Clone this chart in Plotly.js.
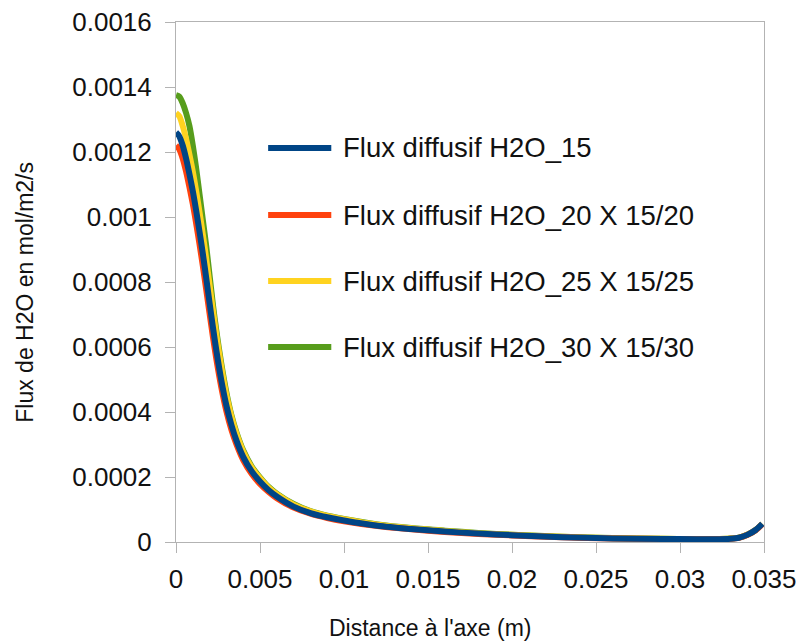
<!DOCTYPE html>
<html>
<head>
<meta charset="utf-8">
<script src="https://cdn.plot.ly/plotly-3.0.1.min.js"></script>
<style>html,body{margin:0;padding:0;background:#fff;}#chart{width:801px;height:644px;}</style>
</head>
<body>
<div id="chart"></div>
<script>
// Distance à l'axe (m)
const distance = [0,0.0002,0.0004,0.0006,0.0008,0.001,0.0012,0.0014,0.0016,0.0018,
  0.002,0.0022,0.0024,0.0027,0.003,0.0033,0.0036,0.004,0.0045,0.005,
  0.0055,0.006,0.007,0.008,0.009,0.01,0.012,0.014,0.016,0.018,
  0.02,0.023,0.026,0.029,0.031,0.032,0.033,0.0335,0.034,0.0345,0.0349];

const flux15 = [0.00126,0.001248,0.00122,0.00118,0.001132,0.00108,0.00102,0.000955,0.000886,0.000812,
  0.000735,0.00066,0.00059,0.000497,0.00042,0.00036,0.000312,0.000262,0.000218,0.000186,
  0.00016,0.00014,0.000109,0.000089,0.000076,0.000066,0.00005,0.00004,0.000032,0.000026,
  0.000021,0.000015,0.000011,0.0000095,0.0000085,0.0000085,0.00001,0.000013,0.000022,0.000037,0.000056];

const flux20 = [0.00122,0.001208,0.00118,0.00114,0.001092,0.00104,0.00098,0.000916,0.000848,0.000776,
  0.000702,0.00063,0.000563,0.000475,0.000402,0.000345,0.0003,0.000252,0.00021,0.000179,
  0.000155,0.000135,0.000106,0.000087,0.000074,0.000064,0.000049,0.000039,0.000031,0.000025,
  0.0000203,0.0000145,0.000011,0.0000093,0.0000083,0.0000083,0.0000098,0.0000127,0.0000215,0.000036,0.000055];

const flux25 = [0.00132,0.00131,0.00128,0.00124,0.001192,0.00114,0.00108,0.001015,0.000945,0.00087,
  0.00079,0.000712,0.000638,0.000538,0.000452,0.000385,0.000333,0.000278,0.00023,0.000196,
  0.000168,0.000147,0.000115,0.000094,0.00008,0.00007,0.000053,0.000042,0.000034,0.000027,
  0.000022,0.000016,0.0000118,0.00001,0.000009,0.000009,0.0000105,0.0000135,0.000022,0.000037,0.000056];

const flux30 = [0.001375,0.00137,0.00135,0.00132,0.00128,0.00122,0.00115,0.00107,0.00099,0.00091,
  0.00082,0.00073,0.00065,0.000548,0.00046,0.00039,0.000337,0.000282,0.000233,0.000199,
  0.00017,0.000149,0.000117,0.000095,0.000081,0.000071,0.000054,0.000043,0.000035,0.000028,
  0.0000225,0.000016,0.000012,0.00001,0.000009,0.000009,0.0000105,0.0000135,0.000022,0.000037,0.000056];

const seriesNames = ["Flux diffusif H2O_15","Flux diffusif H2O_20 X 15/20","Flux diffusif H2O_25 X 15/25","Flux diffusif H2O_30 X 15/30"];
const seriesColors = ["#004586","#ff420e","#ffd320","#579d1c"];
const seriesValues = [flux15, flux20, flux25, flux30];

const xTickVals = [0,0.005,0.01,0.015,0.02,0.025,0.03,0.035];
const xTickText = ["0","0.005","0.01","0.015","0.02","0.025","0.03","0.035"];
const yTickVals = [0,0.0002,0.0004,0.0006,0.0008,0.001,0.0012,0.0014,0.0016];
const yTickText = ["0","0.0002","0.0004","0.0006","0.0008","0.001","0.0012","0.0014","0.0016"];

const xTitle = "Distance à l'axe (m)";
const yTitle = "Flux de H2O en mol/m2/s";

const FONT = "Liberation Sans, Arial, sans-serif";

// draw order: last series first so the first (blue) sits on top
const traces = [];
for (let i = seriesValues.length - 1; i >= 0; i--) {
  traces.push({
    type: "scatter", mode: "lines", name: seriesNames[i],
    x: distance, y: seriesValues[i],
    line: {color: seriesColors[i], width: 6, shape: "spline", smoothing: 0.8},
    showlegend: false
  });
}

// custom legend (lines + labels) placed inside the plot area
const legendRowsY = [0.7577, 0.6288, 0.5019, 0.375];
const shapes = [];
const annotations = [];
seriesNames.forEach((n, i) => {
  shapes.push({type: "line", xref: "paper", yref: "paper",
    x0: 0.1567, x1: 0.2641, y0: legendRowsY[i], y1: legendRowsY[i],
    line: {color: seriesColors[i], width: 6}});
  annotations.push({xref: "paper", yref: "paper", x: 0.2811, y: legendRowsY[i],
    xanchor: "left", yanchor: "middle", showarrow: false, text: n,
    font: {family: FONT, size: 27.5, color: "#111"}});
});
annotations.push({xref: "paper", yref: "paper", x: 0.4327, y: -0.1654,
  xanchor: "center", yanchor: "middle", showarrow: false, text: xTitle,
  font: {family: FONT, size: 23, color: "#111"}});
annotations.push({xref: "paper", yref: "paper", x: -0.2572, y: 0.4808,
  xanchor: "center", yanchor: "middle", showarrow: false, text: yTitle, textangle: -90,
  font: {family: FONT, size: 23, color: "#111"}});

const axisCommon = {
  showgrid: false, zeroline: false, showline: true, mirror: true,
  linecolor: "#b3b3b3", linewidth: 1,
  ticks: "outside", ticklen: 10, tickcolor: "#b3b3b3", tickwidth: 1,
  tickfont: {family: FONT, size: 26, color: "#111"}
};

const layout = {
  width: 801, height: 644,
  margin: {l: 176, r: 37, t: 22, b: 102},
  paper_bgcolor: "#fff", plot_bgcolor: "#fff",
  showlegend: false,
  xaxis: Object.assign({}, axisCommon, {range: [0, 0.035], tickmode: "array",
    tickvals: xTickVals, ticktext: xTickText, ticklabelstandoff: 4}),
  yaxis: Object.assign({}, axisCommon, {range: [0, 0.0016], tickmode: "array",
    tickvals: yTickVals, ticktext: yTickText, ticklabelstandoff: 8}),
  shapes: shapes,
  annotations: annotations
};

Plotly.newPlot("chart", traces, layout, {displayModeBar: false, staticPlot: true});
</script>
</body>
</html>
